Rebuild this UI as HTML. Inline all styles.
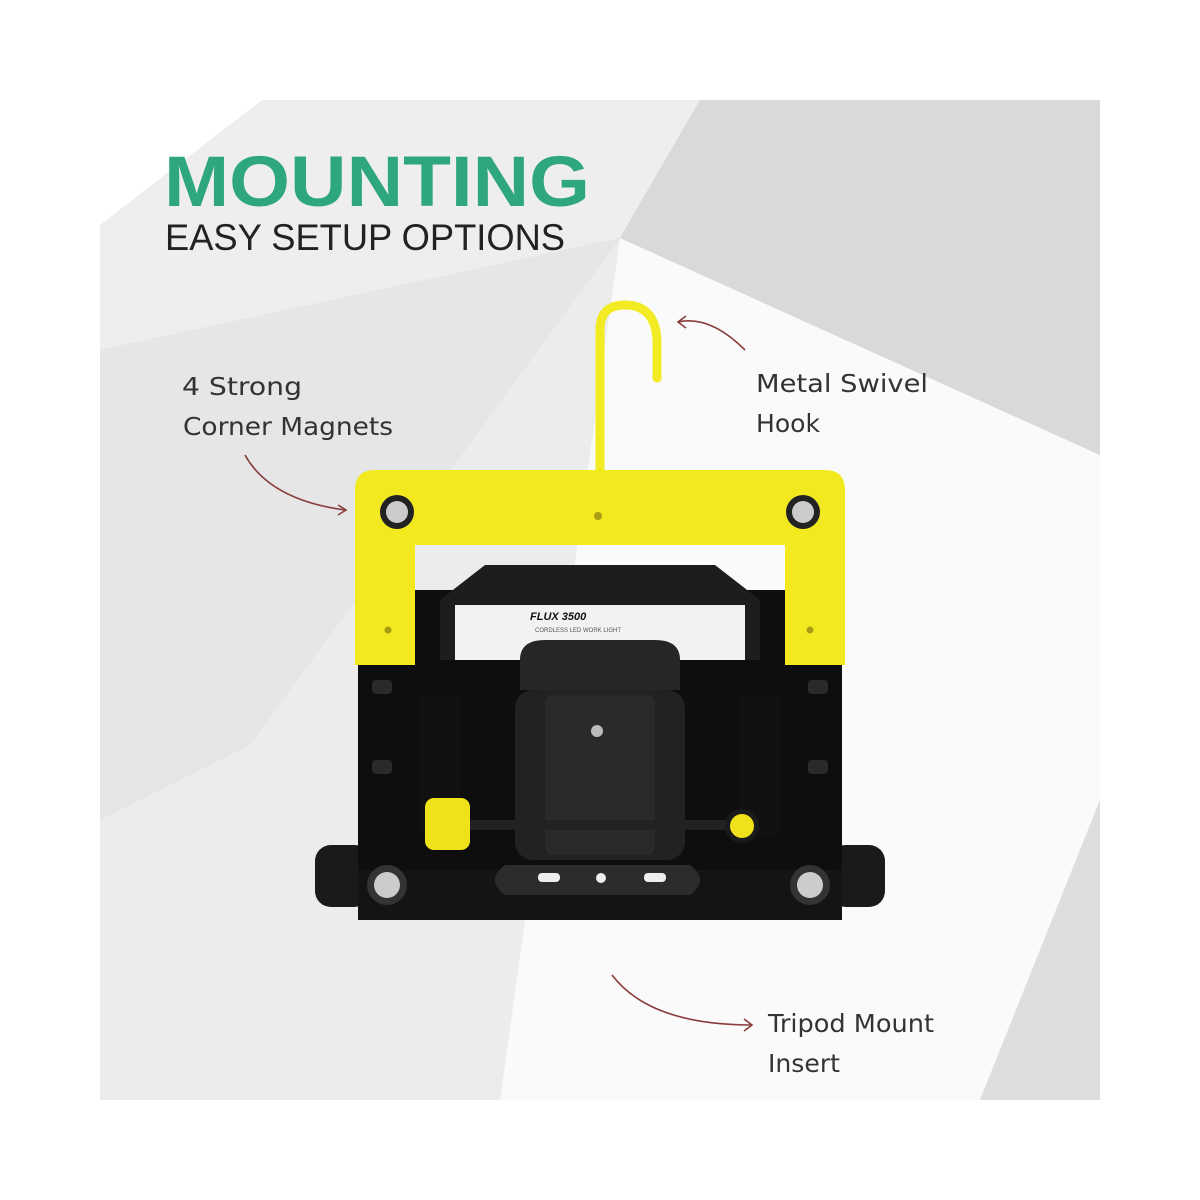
<!DOCTYPE html>
<html><head><meta charset="utf-8"><style>
html,body{margin:0;padding:0;background:#fff;}
svg{display:block;}
</style></head><body>
<svg width="1200" height="1200" viewBox="0 0 1200 1200" xmlns="http://www.w3.org/2000/svg">
<rect width="1200" height="1200" fill="#fff"/>
<rect x="100" y="100" width="1000" height="1000" fill="#dcdcdc"/>
<polygon points="100,100 700,100 620,238 100,350" fill="#eeeeee"/>
<polygon points="100,100 262,100 100,225" fill="#fff"/>
<polygon points="100,350 620,238 250,745 100,820" fill="#e6e6e6"/>
<polygon points="100,820 250,745 620,238 500,1100 100,1100" fill="#ececec"/>
<polygon points="620,238 1100,455 1100,800 980,1100 500,1100" fill="#fafafa"/>
<polygon points="1100,800 1100,1100 980,1100" fill="#dedede"/>
<polygon points="700,100 620,238 1100,455 1100,100" fill="#d9d9d9"/>
<text x="164" y="206" font-family="Liberation Sans, sans-serif" font-weight="bold" font-size="71" fill="#2ea67f" textLength="426" lengthAdjust="spacingAndGlyphs">MOUNTING</text>
<text x="165" y="250" font-family="Liberation Sans, sans-serif" font-size="37" fill="#222" textLength="400" lengthAdjust="spacingAndGlyphs">EASY SETUP OPTIONS</text>
<g font-family="DejaVu Sans, sans-serif" font-size="25" fill="#333">
<text x="182" y="395" textLength="120" lengthAdjust="spacingAndGlyphs">4 Strong</text>
<text x="183" y="435" textLength="210" lengthAdjust="spacingAndGlyphs">Corner Magnets</text>
<text x="756" y="392" textLength="172" lengthAdjust="spacingAndGlyphs">Metal Swivel</text>
<text x="756" y="432" textLength="64" lengthAdjust="spacingAndGlyphs">Hook</text>
<text x="768" y="1032" textLength="166" lengthAdjust="spacingAndGlyphs">Tripod Mount</text>
<text x="768" y="1072" textLength="72" lengthAdjust="spacingAndGlyphs">Insert</text>
</g>
<g fill="none" stroke="#8a3c3c" stroke-width="1.6">
<path d="M245,455 Q270,500 345,510"/><path d="M338,505 L346,510 L338,515"/>
<path d="M745,350 Q710,315 678,322"/><path d="M686,316 L678,322 L686,328"/>
<path d="M612,975 Q650,1025 752,1025"/><path d="M744,1019 L752,1025 L744,1031"/>
</g>
<path d="M600,470 L600,330 Q600,305 625,305 Q655,305 657,340 L657,378" fill="none" stroke="#f2ea23" stroke-width="9" stroke-linecap="round"/>
<rect x="315" y="845" width="55" height="62" rx="16" fill="#1a1a1a"/>
<rect x="830" y="845" width="55" height="62" rx="16" fill="#1a1a1a"/>
<rect x="358" y="590" width="484" height="330" rx="10" fill="#0e0e0e"/>
<path d="M485,565 L715,565 L760,600 L760,660 L440,660 L440,600 Z" fill="#1d1d1d"/>
<rect x="455" y="605" width="290" height="55" fill="#f2f2f2"/>
<text x="530" y="620" font-family="Liberation Sans, sans-serif" font-weight="bold" font-style="italic" font-size="11" fill="#111">FLUX 3500</text>
<text x="535" y="632" font-family="Liberation Sans, sans-serif" font-size="6" fill="#555">CORDLESS LED WORK LIGHT</text>
<path d="M520,660 Q520,640 545,640 L655,640 Q680,640 680,660 L680,690 L520,690 Z" fill="#262626"/>
<rect x="515" y="690" width="170" height="170" rx="18" fill="#222"/>
<rect x="545" y="695" width="110" height="160" rx="8" fill="#2a2a2a"/>
<circle cx="597" cy="731" r="6" fill="#bbb"/>
<rect x="420" y="820" width="360" height="10" fill="#222"/>
<rect x="420" y="695" width="40" height="140" fill="#111"/>
<rect x="740" y="695" width="40" height="140" fill="#111"/>
<g fill="#2a2a2a">
<rect x="372" y="680" width="20" height="14" rx="4"/><rect x="808" y="680" width="20" height="14" rx="4"/>
<rect x="372" y="760" width="20" height="14" rx="4"/><rect x="808" y="760" width="20" height="14" rx="4"/>
</g>
<rect x="425" y="798" width="45" height="52" rx="9" fill="#f0e21a"/>
<circle cx="742" cy="826" r="17" fill="#1a1a1a"/><circle cx="742" cy="826" r="12" fill="#f0e21a"/>
<rect x="358" y="870" width="484" height="50" fill="#141414"/>
<path d="M505,865 L690,865 Q710,880 690,895 L505,895 Q485,880 505,865Z" fill="#2c2c2c"/>
<rect x="538" y="873" width="22" height="9" rx="4" fill="#eee"/>
<rect x="644" y="873" width="22" height="9" rx="4" fill="#eee"/>
<circle cx="601" cy="878" r="5" fill="#eee"/>
<path d="M355,490 Q355,470 375,470 L825,470 Q845,470 845,490 L845,665 L785,665 L785,545 L415,545 L415,665 L355,665 Z" fill="#f2ea1f"/>
<circle cx="598" cy="516" r="4" fill="#a89c10"/>
<circle cx="388" cy="630" r="3.5" fill="#a89c10"/><circle cx="810" cy="630" r="3.5" fill="#a89c10"/>
<g>
<circle cx="397" cy="512" r="17" fill="#222"/><circle cx="397" cy="512" r="11" fill="#ccc"/>
<circle cx="803" cy="512" r="17" fill="#222"/><circle cx="803" cy="512" r="11" fill="#ccc"/>
<circle cx="387" cy="885" r="20" fill="#333"/><circle cx="387" cy="885" r="13" fill="#ccc"/>
<circle cx="810" cy="885" r="20" fill="#333"/><circle cx="810" cy="885" r="13" fill="#ccc"/>
</g>
</svg>
</body></html>
